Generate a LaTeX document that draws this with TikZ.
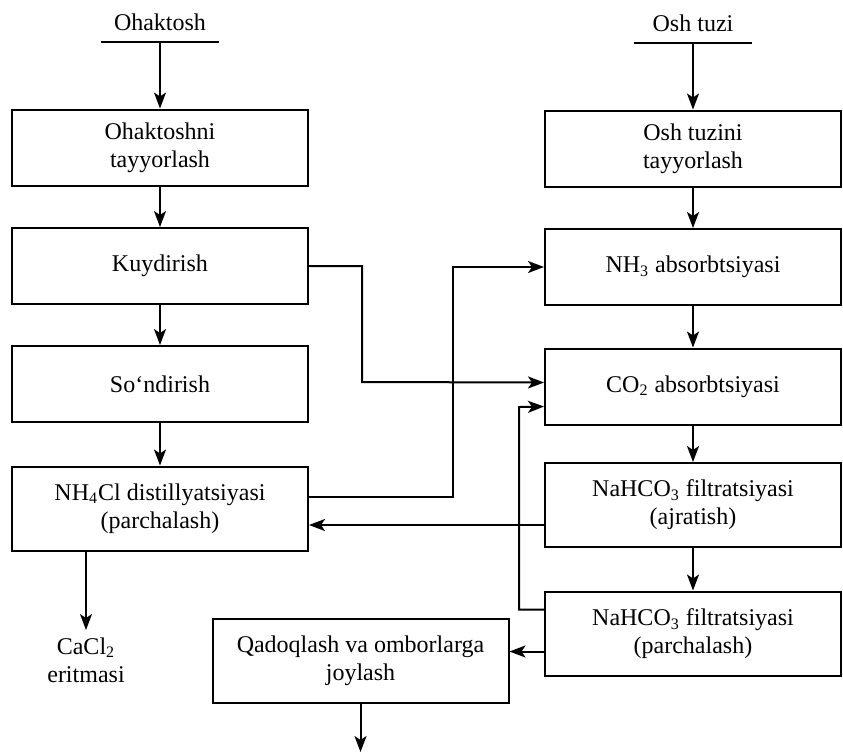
\documentclass[tikz,border=0pt]{standalone}
\usepackage{fontspec}
\setmainfont{Liberation Serif}
\usepackage{tikz}
\usetikzlibrary{arrows.meta, calc, positioning}

\tikzset{
  box/.style={draw, line width=1pt, minimum width=148pt, minimum height=38pt,
    align=center, inner sep=2pt, font=\fontsize{12}{14}\selectfont},
  tall/.style={minimum height=42pt},
  src/.style={minimum width=58pt, inner xsep=0pt, inner ysep=5pt, anchor=south,
    font=\fontsize{12}{14}\selectfont},
}

\begin{document}
\begin{tikzpicture}[>={Stealth[length=8pt,width=6pt,inset=2pt]}, x=0.5pt, y=-0.5pt, line width=1pt]
    \useasboundingbox (0,0) rectangle (843,752);

    % Xom ashyolar
    \node[src] (ohk) at (160,42) {Ohaktosh};
    \node[src] (ost) at (693,43) {Osh tuzi};
    \draw (ohk.south west) -- (ohk.south east);
    \draw (ost.south west) -- (ost.south east);

    % Chap ustun
    \node[box] (tayL) at (160,147.5) {Ohaktoshni\\tayyorlash};
    \node[box] (kuyd) at (160,266) {Kuydirish};
    \node[box] (sond) at (160,384) {So‘ndirish};
    \node[box, tall] (dist) at (160,508.5) {NH\textsubscript{4}Cl distillyatsiyasi\\(parchalash)};
    \node[align=center, font=\fontsize{12}{14}\selectfont, anchor=north] (cacl) at (86,630)
        {CaCl\textsubscript{2}\\eritmasi};

    % O'ng ustun
    \node[box] (tayR) at (693,148.5) {Osh tuzini\\tayyorlash};
    \node[box] (nh3) at (693,267) {NH\textsubscript{3} absorbtsiyasi};
    \node[box] (co2) at (693,386.5) {CO\textsubscript{2} absorbtsiyasi};
    \node[box, tall] (ajr) at (693,505) {NaHCO\textsubscript{3} filtratsiyasi\\(ajratish)};
    \node[box, tall] (par) at (693,633.5) {NaHCO\textsubscript{3} filtratsiyasi\\(parchalash)};
    \node[box, tall] (qad) at (360.5,661) {Qadoqlash va omborlarga\\joylash};
    \coordinate (out) at (360.5,752);

    % Asosiy oqimlar
    \draw[->] (ohk.south) -- (tayL);
    \draw[->] (tayL) -- (kuyd);
    \draw[->] (kuyd) -- (sond);
    \draw[->] (sond) -- (dist);
    \draw[->] (dist.south -| cacl) -- (cacl);
    \draw[->] (ost.south) -- (tayR);
    \draw[->] (tayR) -- (nh3);
    \draw[->] (nh3) -- (co2);
    \draw[->] (co2) -- (ajr);
    \draw[->] (ajr) -- (par);
    \draw[->] (qad) -- (out);

    % Qaytar oqimlar
    \draw[->] (kuyd.east) -| (362,382) -- ([yshift=2pt]co2.west);
    \draw[->] ([yshift=6pt]dist.east) -| (453,267) -- (nh3.west);
    \draw[->] ([yshift=-10pt]ajr.west) -- ([yshift=-10pt]ajr.west -| dist.east);
    \draw[->] ([yshift=12pt]par.west) -| (519,407) -- ([yshift=-10pt]co2.west);
    \draw[->] ([yshift=-9pt]par.west) -- ([yshift=-9pt]par.west -| qad.east);
\end{tikzpicture}
\end{document}
